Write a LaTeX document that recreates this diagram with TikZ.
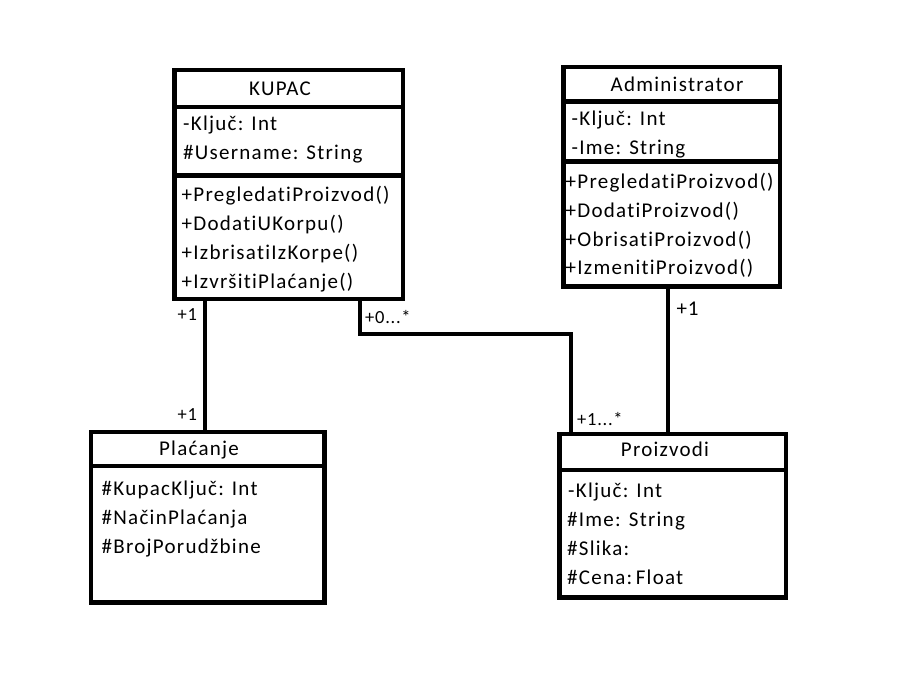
\documentclass[tikz,border=0pt]{standalone}
\usepackage{fontspec}
\setmainfont{Carlito}[Ligatures=NoCommon]
\newfontfamily\classfont[LetterSpace=6,Ligatures=NoCommon]{Carlito}
\newfontfamily\multfont[LetterSpace=4,Ligatures=NoCommon]{Carlito}
\usetikzlibrary{calc}
\begin{document}
\begin{tikzpicture}[x=1pt,y=-1pt,
  classbox/.style={draw=black,line width=4.5pt,fill=white,rectangle,outer sep=0pt,inner sep=0pt},
  sepline/.style={line width=4.5pt},
  conn/.style={line width=4.5pt,line cap=rect},
  txt/.style={anchor=base west,inner sep=0pt,font=\classfont\fontsize{21}{24}\selectfont},
  title/.style={anchor=base,inner sep=0pt,font=\classfont\fontsize{21}{24}\selectfont},
  mult/.style={anchor=base west,inner sep=0pt,font=\multfont\fontsize{18.5}{22}\selectfont},
  multbig/.style={anchor=base west,inner sep=0pt,font=\multfont\fontsize{21}{24}\selectfont}]
\useasboundingbox[fill=white] (0,0) rectangle (920,672);

% class boxes
\node[classbox,minimum width=228.5pt,minimum height=229pt] (kupac) at (288.75,184.5) {};
\node[classbox,minimum width=216.5pt,minimum height=219.5pt] (admin) at (671.75,176.75) {};
\node[classbox,minimum width=233.5pt,minimum height=170.5pt] (placanje) at (207.75,517.25) {};
\node[classbox,minimum width=226.5pt,minimum height=163.5pt] (proizvodi) at (672.75,515.75) {};

% compartment separators
\draw[sepline] (kupac.west |- 0,107) -- (kupac.east |- 0,107);
\draw[sepline] (kupac.west |- 0,175.5) -- (kupac.east |- 0,175.5);
\draw[sepline] (admin.west |- 0,101.5) -- (admin.east |- 0,101.5);
\draw[sepline] (admin.west |- 0,161.5) -- (admin.east |- 0,161.5);
\draw[sepline] (placanje.west |- 0,466) -- (placanje.east |- 0,466);
\draw[sepline] (proizvodi.west |- 0,470) -- (proizvodi.east |- 0,470);

% KUPAC
\node[title] (kupacT) at (280,95) {KUPAC};
\node[txt] (k1) at (183,130) {-Ključ: Int};
\node[txt] (k2) at (183,159.5) {\#Username: String};
\node[txt] (k3) at (181.5,201) {+PregledatiProizvod()};
\node[txt] (k4) at (181.5,230) {+DodatiUKorpu()};
\node[txt] (k5) at (181.5,259) {+IzbrisatiIzKorpe()};
\node[txt] (k6) at (181.5,288) {+IzvršitiPlaćanje()};

% Administrator
\node[title] (adminT) at (677,91.5) {Administrator};
\node[txt] (a1) at (571.5,125) {-Ključ: Int};
\node[txt] (a2) at (571.5,154.5) {-Ime: String};
\node[txt] (a3) at (565.5,188.5) {+PregledatiProizvod()};
\node[txt] (a4) at (565.5,217) {+DodatiProizvod()};
\node[txt] (a5) at (565.5,246) {+ObrisatiProizvod()};
\node[txt] (a6) at (565.5,274.5) {+IzmenitiProizvod()};

% Plaćanje
\node[title] (placanjeT) at (199,455) {Plaćanje};
\node[txt] (p1) at (101.5,495.5) {\#KupacKljuč: Int};
\node[txt] (p2) at (101.5,524) {\#NačinPlaćanja};
\node[txt] (p3) at (101.5,553.5) {\#BrojPorudžbine};

% Proizvodi
\node[title] (proizvodiT) at (665,456.5) {Proizvodi};
\node[txt] (r1) at (568,497.5) {-Ključ: Int};
\node[txt] (r2) at (567,526.5) {\#Ime: String};
\node[txt] (r3) at (567,555.5) {\#Slika:};
\node[txt] (r4) at (567,584.5) {\#Cena:\,Float};

% associations
\coordinate (kpOut) at ($(kupac.south west)+(30.5,0)$);
\draw[conn] (kpOut) -- (kpOut |- placanje.north);
\coordinate (kzOut) at ($(kupac.south west)+(185.5,0)$);
\coordinate (kzBend) at (571,334);
\draw[conn] (kzOut) |- (kzBend) -- (kzBend |- proizvodi.north);
\coordinate (azOut) at ($(admin.south west)+(104.5,0)$);
\draw[conn] (azOut) -- (azOut |- proizvodi.north);

% multiplicities
\node[mult] (m1) at (177.5,320.5) {+1};
\node[mult] (m2) at (177.5,420.5) {+1};
\node[mult] (m3) at (365,323) {+0...*};
\node[mult] (m4) at (577,425) {+1...*};
\node[multbig] (m5) at (676.5,315.5) {+1};
\end{tikzpicture}
\end{document}
